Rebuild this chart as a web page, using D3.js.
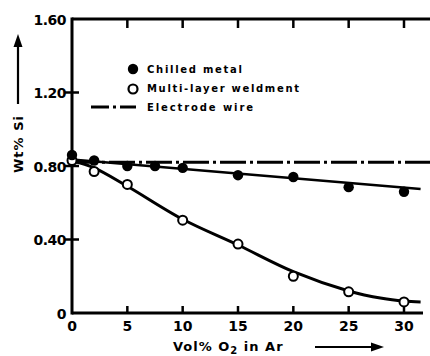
<!DOCTYPE html>
<html><head><meta charset="utf-8">
<script src="https://cdn.jsdelivr.net/npm/d3@7/dist/d3.min.js"></script>
<style>
html,body{margin:0;padding:0;background:#fff;}
svg{display:block;}
text{font-family:"DejaVu Sans",sans-serif;font-weight:bold;fill:#000;}
</style></head>
<body>
<svg id="c" width="430" height="356"></svg>
<script>
// ---- data ----
const xTicks = [0, 5, 10, 15, 20, 25, 30];
const yTicks = [0, 0.4, 0.8, 1.2, 1.6];
const yTickLabels = ["0", "0.40", "0.80", "1.20", "1.60"];
const chilledX = [0, 2, 5, 7.5, 10, 15, 20, 25, 30];
const chilledY = [0.86, 0.83, 0.80, 0.80, 0.79, 0.75, 0.74, 0.685, 0.66];
const chilledFitX = [0, 31.5];
const chilledFitY = [0.835, 0.675];
const multiX = [0, 2, 5, 10, 15, 20, 25, 30];
const multiY = [0.83, 0.77, 0.70, 0.505, 0.375, 0.20, 0.115, 0.06];
const multiFitX = [0, 2, 5, 10, 15, 20, 25, 28, 30, 31.5];
const multiFitY = [0.83, 0.79, 0.69, 0.51, 0.37, 0.225, 0.12, 0.08, 0.065, 0.06];
const electrodeX = [0, 32.4];
const electrodeY = [0.82, 0.82];
const legendLabels = ["Chilled metal", "Multi-layer weldment", "Electrode wire"];

// ---- layout ----
const svg = d3.select("#c");
const x = d3.scaleLinear().domain([0, 30]).range([72, 404]);
const y = d3.scaleLinear().domain([0, 1.6]).range([313, 19]);
const line = d3.line().x(d => x(d[0])).y(d => y(d[1]));

// axes frame
const g = svg.append("g").attr("stroke", "#000").attr("stroke-width", 3).attr("fill", "none");
g.append("line").attr("x1", x(0)).attr("x2", x(0)).attr("y1", y(1.6) - 1.5).attr("y2", y(0) + 1.5);
g.append("line").attr("x1", x(0)).attr("x2", 423).attr("y1", y(0)).attr("y2", y(0));
g.append("line").attr("x1", x(0)).attr("x2", 430).attr("y1", y(1.6)).attr("y2", y(1.6));

// x ticks (top & bottom, inward)
xTicks.filter(d => d > 0).forEach(d => {
  g.append("line").attr("x1", x(d)).attr("x2", x(d)).attr("y1", y(1.6)).attr("y2", y(1.6) + 9).attr("stroke-width", 2.5);
  g.append("line").attr("x1", x(d)).attr("x2", x(d)).attr("y1", y(0)).attr("y2", y(0) - 7).attr("stroke-width", 2.5);
});
// y ticks
yTicks.filter(d => d > 0 && d < 1.6).forEach(d => {
  g.append("line").attr("x1", x(0) - 7).attr("x2", x(0) + 7).attr("y1", y(d)).attr("y2", y(d)).attr("stroke-width", 2.5);
});

// tick labels
svg.append("g").selectAll("text").data(xTicks).join("text")
  .attr("x", d => x(d)).attr("y", 331).attr("text-anchor", "middle")
  .attr("font-size", 14).text(d => d);
svg.append("g").selectAll("text").data(yTicks).join("text")
  .attr("x", 66).attr("y", d => y(d) + 5.5).attr("text-anchor", "end")
  .attr("font-size", 14).attr("letter-spacing", -0.5).text((d, i) => yTickLabels[i]);

// electrode wire dash-dot
svg.append("path").attr("d", line(electrodeX.map((v, i) => [v, electrodeY[i]])))
  .attr("stroke", "#000").attr("stroke-width", 3).attr("fill", "none")
  .attr("stroke-dasharray", "26,4,3,4");

// chilled fit
svg.append("path").attr("d", line(chilledFitX.map((v, i) => [v, chilledFitY[i]])))
  .attr("stroke", "#000").attr("stroke-width", 2.5).attr("fill", "none");
// multi fit
svg.append("path").attr("d", line.curve(d3.curveCatmullRom)(multiFitX.map((v, i) => [v, multiFitY[i]])))
  .attr("stroke", "#000").attr("stroke-width", 3).attr("fill", "none");

// markers
svg.append("g").selectAll("circle").data(multiX).join("circle")
  .attr("cx", d => x(d)).attr("cy", (d, i) => y(multiY[i])).attr("r", 4.5)
  .attr("fill", "#fff").attr("stroke", "#000").attr("stroke-width", 2);
svg.append("g").selectAll("circle").data(chilledX).join("circle")
  .attr("cx", d => x(d)).attr("cy", (d, i) => y(chilledY[i])).attr("r", 5.2)
  .attr("fill", "#000");

// legend
const lg = svg.append("g");
lg.append("circle").attr("cx", 133).attr("cy", 69).attr("r", 5.2).attr("fill", "#000");
lg.append("circle").attr("cx", 133).attr("cy", 89).attr("r", 4.5).attr("fill", "#fff").attr("stroke", "#000").attr("stroke-width", 2.2);
lg.append("line").attr("x1", 91).attr("x2", 136).attr("y1", 107).attr("y2", 107)
  .attr("stroke", "#000").attr("stroke-width", 3).attr("stroke-dasharray", "18,4,3,4");
const legW = [95, 152, 106];
legendLabels.forEach((t, i) => {
  lg.append("text").attr("x", 147).attr("y", 73 + i * 19).attr("font-size", 10)
    .attr("textLength", legW[i]).attr("lengthAdjust", "spacing").text(t);
});

// y label with arrow
svg.append("text").attr("transform", "translate(23,144) rotate(-90)")
  .attr("text-anchor", "middle").attr("font-size", 13).attr("letter-spacing", 1).text("Wt% Si");
svg.append("line").attr("x1", 18).attr("x2", 18).attr("y1", 104).attr("y2", 44)
  .attr("stroke", "#000").attr("stroke-width", 2.2);
svg.append("path").attr("d", "M18,34 L13.5,47 L22.5,47 Z").attr("fill", "#000");

// x label with arrow
const xl = svg.append("text").attr("x", 173).attr("y", 351).attr("font-size", 13).attr("letter-spacing", 1);
xl.append("tspan").text("Vol% O");
xl.append("tspan").attr("font-size", 10).attr("dy", 3).text("2");
xl.append("tspan").attr("dy", -3).text(" in Ar");
svg.append("line").attr("x1", 315).attr("x2", 374).attr("y1", 347).attr("y2", 347)
  .attr("stroke", "#000").attr("stroke-width", 2);
svg.append("path").attr("d", "M384,347 L371,342.5 L371,351.5 Z").attr("fill", "#000");
</script>
</body></html>
